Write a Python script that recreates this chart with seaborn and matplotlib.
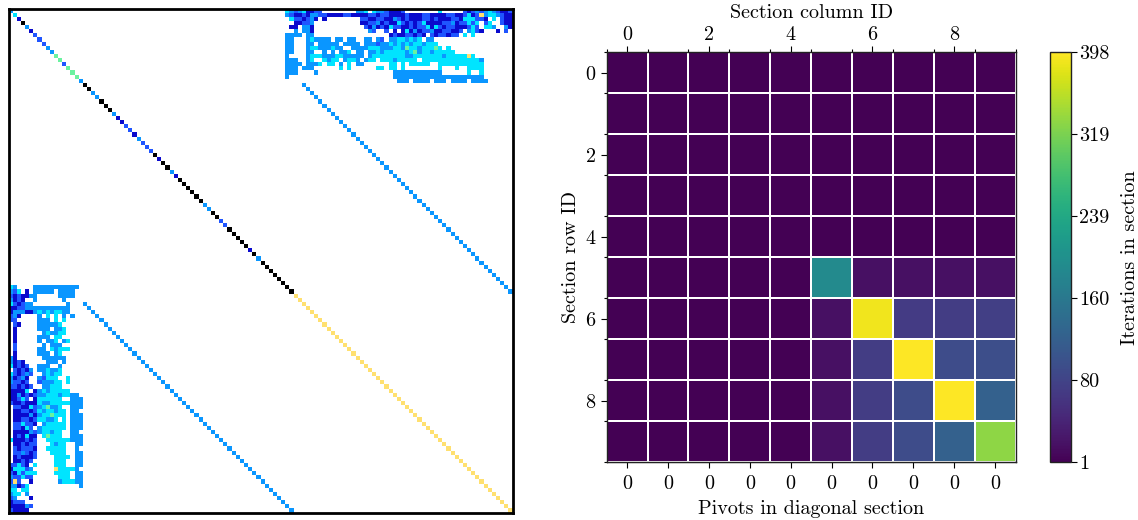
import numpy as np
import matplotlib
matplotlib.use("Agg")
import matplotlib.pyplot as plt
from matplotlib.colors import ListedColormap
import seaborn as sns

plt.rcParams["font.family"] = "serif"
plt.rcParams["font.serif"] = ["cmr10"]
plt.rcParams["mathtext.fontset"] = "cm"
plt.rcParams["axes.formatter.use_mathtext"] = True
FS = 14.5

# ---------------------------------------------------------------- sparsity
N = 122          # matrix dimension
SPLIT = 69       # first index of the lower-right diagonal block

# value levels used for the entries ('.' = structural zero)
level_codes = ".kdbacgy"
level_colors = ["#000000", "#0a0acd", "#1f55ff", "#0a96ff",
                "#00e4ff", "#6af2a0", "#ffe070"]

# diagonal of the leading block, one level per row
diag_head = "acdkadbbbaaggbgggakkaakkkaddbbdabbbkdkkadkkkkkkaakkbbkkkkkdkakkkkkkkk"

# upper coupling block: rows 0.., columns upper_first_col..N-1,
# written in groups of ten columns; the lower block is its transpose
upper_first_col = 66
upper_rows = [
    ".cabacddbb|........aa|c.caabdddb|........c.|....bdbaba|cabddb",
    ".abddbdaab|bddddbbddd|dbbdbbdddd|bdddbbdddd|bbddbcdbya|ccabdd",
    "..cbbdbad.|d........b|bddbbddabd|bdddbbdbdd|dbbdcccbbd|.c.bdd",
    "...ddbba..|.........d|dbbadbddcb|dbdbcddddb|badbbcbc.b|c..bdd",
    "..dd.aad..|..........|bdadbdcbbd|dbdbbcdcbd|bbdddbcb.c|ca..ad",
    "...a.aad..|..........|.ab..b.d.d|cdadbbaddb|bddb.acbd.|..d.b.",
    ".aaaa.aa..|..........|......dbdd|bbdbd.bdbb|dbb.c.c...|......",
    ".aa...acaa|aa.aa.aa..|aa.ab.aacc|acac.aa...|..........|......",
    ".aa...aa.a|aaaa.aaaa.|aaabaacaca|caccaccc..|..........|......",
    ".aa...acca|aacaa..aaa|acccaaacca|gccacccgc.|c.........|......",
    ".aa...aa..|a.a.aac.aa|.aacaccccc|acgaccaccc|cc........|......",
    ".a....accc|aaaccaaaaa|.acccccccc|aaccccccca|cccccyc...|......",
    ".aaa..ac..|cacc.acca.|acc.cccacc|ccc.cccccc|cccccccca.|......",
    ".aaaa.aaac|.cc.a.c.aa|......cc.c|.ccccc..cc|ccccccccc.|......",
    ".aaa.aaa..|....c.c...|...cc.cc.c|........c.|..c..cccc.|......",
    ".aaa....a.|..........|.......aaa|aaaaaaaaa.|.....c..c.|......",
    ".a........|..........|.......aaa|aaaaaaaaaa|aaaaaaaaa.|......",
    "..........|..........|........aa|a.aaaa.aaa|.aaaa.aaaa|......",
]

# identity-like coupling: rows line_rows[0]..line_rows[1], column = row + shift
line_rows = (18, 68)
line_shift = 53
line_level = "a"

# ---------------------------------------------------------------- sections
section_iters = np.array([
    [1, 1, 1, 1, 1, 1, 1, 1, 1, 1],
    [1, 1, 1, 1, 1, 1, 1, 1, 1, 1],
    [1, 1, 1, 1, 1, 1, 1, 1, 1, 1],
    [1, 1, 1, 1, 1, 1, 1, 1, 1, 1],
    [1, 1, 1, 1, 1, 1, 1, 1, 1, 1],
    [1, 1, 1, 1, 1, 190, 18, 18, 18, 18],
    [1, 1, 1, 1, 1, 18, 390, 70, 72, 75],
    [1, 1, 1, 1, 1, 18, 72, 398, 92, 95],
    [1, 1, 1, 1, 1, 18, 72, 92, 398, 122],
    [1, 1, 1, 1, 1, 18, 72, 92, 122, 330],
])
pivots = [0, 0, 0, 0, 0, 0, 0, 0, 0, 0]
iter_min, iter_max = 1, 398

# ---------------------------------------------------------------- build matrix
M = np.zeros((N, N), dtype=int)
for k in range(N):
    ch = diag_head[k] if k < SPLIT else "y"
    M[k, k] = level_codes.index(ch)
for r, row in enumerate(upper_rows):
    for i, ch in enumerate(row.replace("|", "")):
        if ch != ".":
            c = upper_first_col + i
            M[r, c] = M[c, r] = level_codes.index(ch)
for r in range(line_rows[0], line_rows[1] + 1):
    c = r + line_shift
    M[r, c] = M[c, r] = level_codes.index(line_level)

# ---------------------------------------------------------------- figure
W, H = 1138, 520
fig = plt.figure(figsize=(W / 100, H / 100), dpi=100)

axL = fig.add_axes([8.5 / W, 1 - 512.5 / H, 504 / W, 504 / H])
sns.heatmap(M, mask=(M == 0), cmap=ListedColormap(level_colors),
            vmin=0.5, vmax=len(level_colors) + 0.5, cbar=False,
            xticklabels=False, yticklabels=False, ax=axL)
axL.set_xticks([])
axL.set_yticks([])
for s in axL.spines.values():
    s.set_visible(True)
    s.set_linewidth(2.0)
    s.set_color("black")

axR = fig.add_axes([606.7 / W, 1 - 462.3 / H, 408.8 / W, 410 / H])
cax = fig.add_axes([1049.5 / W, 1 - 462.3 / H, 21.5 / W, 410 / H])
sns.heatmap(section_iters, cmap="viridis", vmin=iter_min, vmax=iter_max,
            linewidths=1.4, linecolor="white", cbar_ax=cax,
            xticklabels=False, yticklabels=False, ax=axR)

nsec = section_iters.shape[0]
axR.xaxis.tick_top()
axR.xaxis.set_label_position("top")
axR.set_xticks(np.arange(0, nsec, 2) + 0.5)
axR.set_xticklabels([str(i) for i in range(0, nsec, 2)], fontsize=FS)
axR.set_xticks(np.arange(nsec + 1), minor=True)
axR.set_yticks(np.arange(0, nsec, 2) + 0.5)
axR.set_yticklabels([str(i) for i in range(0, nsec, 2)], fontsize=FS, rotation=0)
axR.set_yticks(np.arange(nsec + 1), minor=True)
axR.tick_params(axis="x", which="major", top=True, bottom=False, length=4, width=0.8, pad=2)
axR.tick_params(axis="x", which="minor", top=True, bottom=False, length=2.5, width=0.8)
axR.tick_params(axis="y", which="major", left=True, length=4, width=0.8, pad=4)
axR.tick_params(axis="y", which="minor", left=True, length=2.5, width=0.8)
axR.set_xlabel("Section column ID", fontsize=FS, labelpad=6)
axR.set_ylabel("Section row ID", fontsize=FS, labelpad=4)
for s in axR.spines.values():
    s.set_visible(True)
    s.set_linewidth(1.0)
    s.set_color("#222222")

sec = axR.secondary_xaxis("bottom")
sec.set_xticks(np.arange(nsec) + 0.5)
sec.set_xticklabels([str(p) for p in pivots], fontsize=FS)
sec.tick_params(length=4, width=0.8, pad=5)
sec.set_xlabel("Pivots in diagonal section", fontsize=FS, labelpad=5)

cb = axR.collections[0].colorbar
cb.outline.set_visible(True)
cb.outline.set_linewidth(1.0)
cb.outline.set_edgecolor("#222222")
cticks = np.linspace(iter_min, iter_max, 6)
cb.set_ticks(cticks)
cb.set_ticklabels([f"{v:.0f}" for v in cticks])
cax.tick_params(labelsize=FS, length=4, width=0.8, pad=2)
cb.set_label("Iterations in section", fontsize=FS, labelpad=8)

fig.savefig("out.png", dpi=100)
